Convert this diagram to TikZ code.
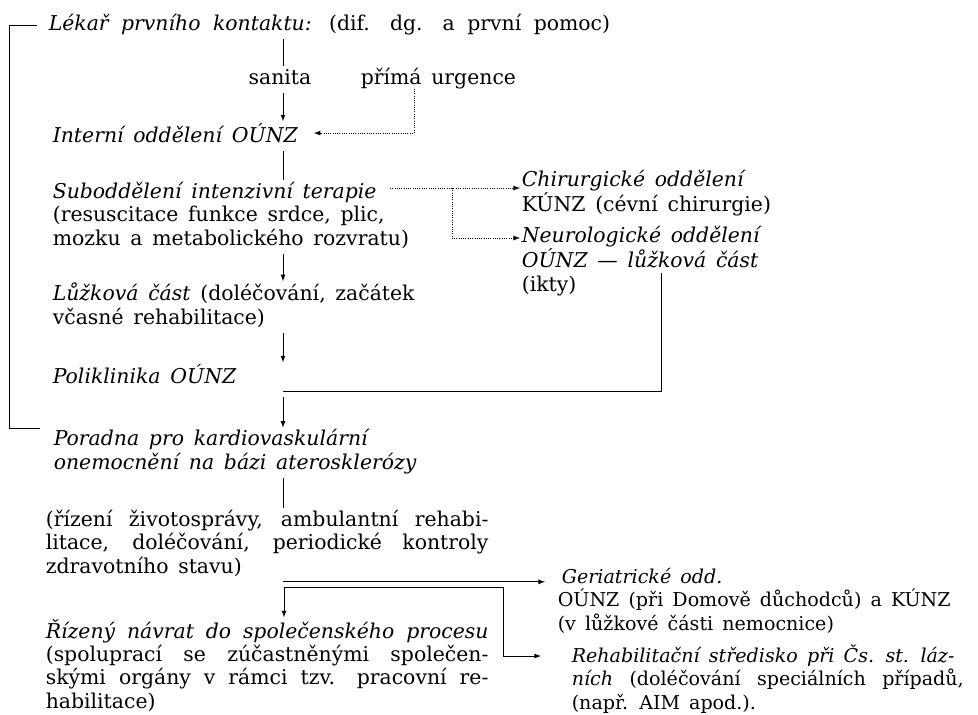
\documentclass[tikz,border=0pt]{standalone}
\usepackage{fontspec}
\setmainfont{DejaVu Serif}[WordSpace=1.5]
\usetikzlibrary{arrows}
\usetikzlibrary{calc}
\newcommand{\fullline}[2]{\makebox[#1][s]{#2}}

\begin{document}
\begin{tikzpicture}[x=0.75pt, y=-0.75pt, line width=0.7pt,
  every node/.style={font=\fontsize{15.3}{17.5}\selectfont, inner sep=1pt,
    align=left, anchor=base west,
    execute at begin node=\strut, execute at end node=\strut},
  narrow/.style={font=\fontsize{14.3}{17.5}\selectfont},
  flow/.style={-latex},
  hint/.style={densely dotted,-latex}]
  \useasboundingbox (0,0) rectangle (978,714);
  \coordinate (axis) at (283,0);

  % nodes sit on the baseline of their last line
  \node (lekar) at (47,30) {\fullline{421pt}{\textit{Lékař prvního kontaktu:} (dif. dg. a první pomoc)}};
  \node[anchor=base] (sanita) at (280,84) {sanita};
  \node (urgence) at (359,84) {přímá urgence};
  \node (interni) at (51,142) {\textit{Interní oddělení OÚNZ}};
  \node (sub) at (51,245) {\textit{Suboddělení intenzivní terapie}\\(resuscitace funkce srdce, plic,\\mozku a metabolického rozvratu)};
  \node (chir) at (520,211) {\textit{Chirurgické oddělení}\\KÚNZ (cévní chirurgie)};
  \node (neuro) at (520,291) {\textit{Neurologické oddělení}\\\textit{OÚNZ — lůžková část}\\(ikty)};
  \node (luzko) at (51,324) {\textit{Lůžková část} (doléčování, začátek\\včasné rehabilitace)};
  \node (polik) at (51,383) {\textit{Poliklinika OÚNZ}};
  \node (poradna) at (52,469) {\textit{Poradna pro kardiovaskulární}\\\textit{onemocnění na bázi aterosklerózy}};
  \node (rizeni) at (44,573) {\fullline{332pt}{(řízení životosprávy, ambulantní rehabi-}\\\fullline{332pt}{litace, doléčování, periodické kontroly}\\zdravotního stavu)};
  \node[narrow] (geri) at (556,630) {\hspace*{3pt}\textit{Geriatrické odd.}\\OÚNZ (při Domově důchodců) a KÚNZ\\(v lůžkové části nemocnice)};
  \node (navrat) at (44,708) {\fullline{332pt}{\textit{Řízený návrat do společenského procesu}}\\\fullline{332pt}{(spoluprací se zúčastněnými společen-}\\\fullline{332pt}{skými orgány v rámci tzv. pracovní re-}\\habilitace)};
  \node[narrow] (rehab) at (570,709) {\fullline{287pt}{\textit{Rehabilitační středisko při Čs. st. láz-}}\\\fullline{294pt}{\textit{ních} (doléčování speciálních případů,}\\(např. AIM apod.).};

  % return bracket on the left
  \draw ($(lekar.base west)+(-10,-5)$) -- ++(-28,0) |- ($(poradna.north west)+(-12,1)$);

  \draw (axis |- lekar.south) -- (axis |- sanita.north);
  \draw[flow] (axis |- sanita.south) -- (axis |- interni.north);
  \draw[hint] ($(urgence.south west)+(55,-4)$) |- ($(interni.east)+(14,-3)$);
  \draw (axis |- interni.south) -- (axis |- sub.north);
  \draw[hint] ($(sub.base west)+(339,-57)$) coordinate (tap) -- (tap -| chir.west);
  \draw[hint] ($(tap)+(62,0)$) |- ($(neuro.base west)+(0,-53)$);
  \draw[flow] (axis |- sub.south) -- (axis |- luzko.north);
  \draw[flow] (axis |- luzko.south) -- (axis |- polik.north);
  \draw ($(neuro.base west)+(141,-18)$) |- (axis |- polik.south);
  \draw[flow] ($(axis |- polik.south)+(0,5)$) -- (axis |- poradna.north);
  \draw (axis |- poradna.south) -- (axis |- rizeni.north);
  \draw[flow] (axis |- rizeni.south) -- ($(rizeni.south -| geri.west)+(-11,0)$);
  \coordinate (fork) at ($(axis |- rizeni.south)+(1,6)$);
  \draw[flow] (fork) -- (fork |- navrat.north);
  \draw[flow] (fork) -| ($(rehab.base west)+(-67,-53)$) -- ($(rehab.base west)+(-29,-53)$);
\end{tikzpicture}
\end{document}
